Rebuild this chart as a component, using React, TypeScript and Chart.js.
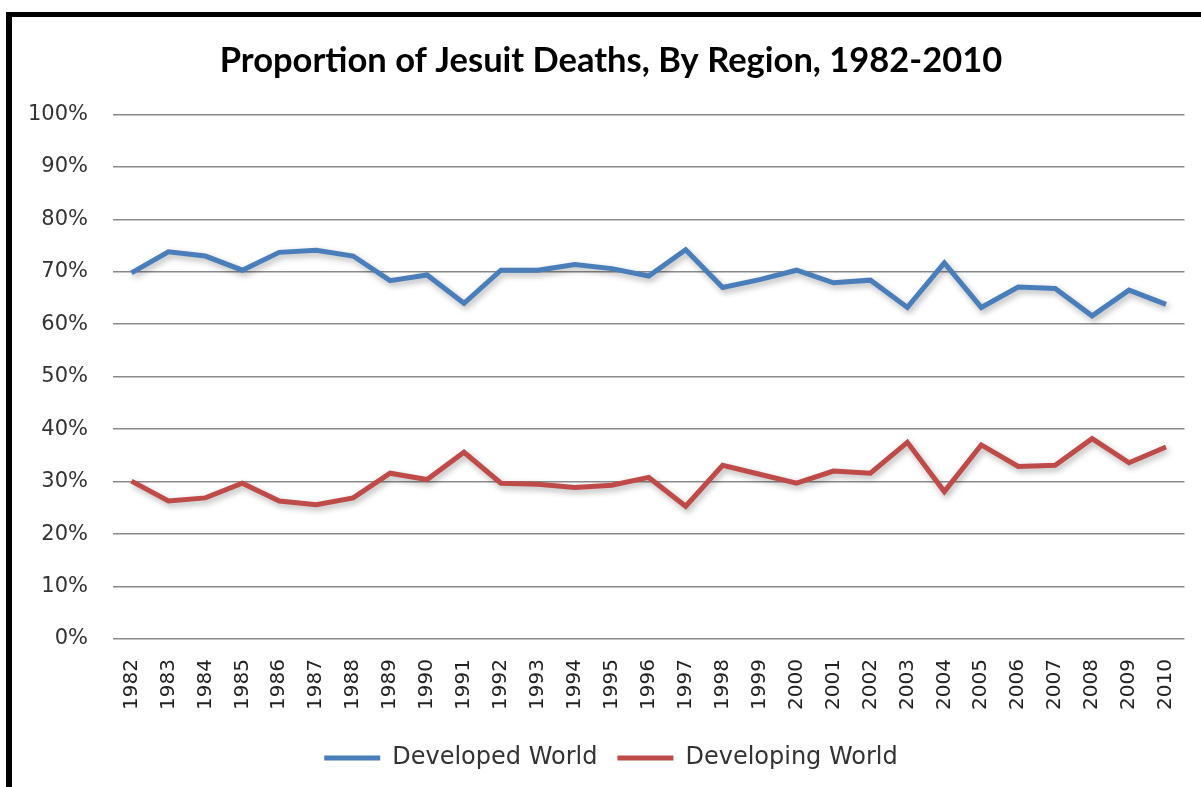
import React, { useEffect, useRef } from "react";
import { Chart, registerables } from "chart.js";

Chart.register(...registerables);

const years: string[] = [
  "1982", "1983", "1984", "1985", "1986", "1987", "1988", "1989", "1990", "1991",
  "1992", "1993", "1994", "1995", "1996", "1997", "1998", "1999", "2000", "2001",
  "2002", "2003", "2004", "2005", "2006", "2007", "2008", "2009", "2010",
];

const developedWorld: number[] = [
  69.8, 73.8, 73.0, 70.3, 73.7, 74.1, 73.0, 68.3, 69.4, 64.0,
  70.3, 70.3, 71.4, 70.6, 69.2, 74.2, 67.0, 68.5, 70.3, 67.9,
  68.4, 63.2, 71.7, 63.2, 67.1, 66.8, 61.6, 66.5, 63.8,
];

const developingWorld: number[] = [
  30.1, 26.3, 26.9, 29.7, 26.3, 25.6, 26.9, 31.6, 30.4, 35.6,
  29.7, 29.5, 28.9, 29.3, 30.8, 25.3, 33.1, 31.4, 29.7, 32.0,
  31.6, 37.5, 28.1, 37.0, 32.9, 33.1, 38.2, 33.6, 36.6,
];

const seriesNames: string[] = ["Developed World", "Developing World"];
const titleText = "Proportion of Jesuit Deaths, By Region, 1982-2010";

const shadowPlugin = {
  id: "lineShadow",
  beforeDatasetDraw(chart: any) {
    const ctx = chart.ctx;
    ctx.save();
    ctx.shadowColor = "rgba(0,0,0,0.30)";
    ctx.shadowBlur = 6;
    ctx.shadowOffsetX = 2;
    ctx.shadowOffsetY = 3;
  },
  afterDatasetDraw(chart: any) {
    chart.ctx.restore();
  },
};

export default function App() {
  const canvasRef = useRef<HTMLCanvasElement | null>(null);

  useEffect(() => {
    if (!canvasRef.current) return;
    const chart = new Chart(canvasRef.current, {
      type: "line",
      data: {
        labels: years,
        datasets: [
          {
            label: seriesNames[0],
            data: developedWorld,
            borderColor: "#4A7EBB",
            backgroundColor: "#4A7EBB",
            borderWidth: 5,
            pointRadius: 0,
            tension: 0,
          },
          {
            label: seriesNames[1],
            data: developingWorld,
            borderColor: "#BE4B48",
            backgroundColor: "#BE4B48",
            borderWidth: 5,
            pointRadius: 0,
            tension: 0,
          },
        ],
      },
      plugins: [shadowPlugin],
      options: {
        animation: false,
        responsive: false,
        maintainAspectRatio: false,
        layout: { padding: { left: 0, right: 0, top: 0, bottom: 7 } },
        plugins: {
          title: {
            display: true,
            text: titleText,
            color: "#000000",
            font: { family: "Lato", size: 34.5, weight: "bold" },
            padding: { top: 23, bottom: 33 },
          },
          legend: {
            display: true,
            position: "bottom",
            labels: {
              usePointStyle: true,
              pointStyle: "line",
              pointStyleWidth: 56,
              color: "#333333",
              font: { family: "DejaVu Sans", size: 24 },
              padding: 20,
            },
          },
          tooltip: { enabled: false },
        },
        scales: {
          x: {
            offset: true,
            afterFit(scale: any) {
              scale.height = 87;
            },
            grid: { display: false, drawTicks: false },
            border: { display: false },
            ticks: {
              color: "#222222",
              font: { family: "DejaVu Sans", size: 20 },
              maxRotation: 90,
              minRotation: 90,
              autoSkip: false,
              padding: 20,
            },
          },
          y: {
            min: 0,
            max: 100,
            afterFit(scale: any) {
              scale.width = 101;
            },
            grid: { color: "#8a8a8a", lineWidth: 1.5, drawTicks: false },
            border: { display: false },
            ticks: {
              stepSize: 10,
              color: "#333333",
              font: { family: "DejaVu Sans", size: 21 },
              padding: 25,
              callback: (v: any) => v + "%",
            },
          },
        },
      },
    });
    return () => chart.destroy();
  }, []);

  return (
    <div style={{ position: "fixed", left: 0, top: 0, width: 1201, height: 787, background: "#ffffff", overflow: "hidden" }}>
      <div
        style={{
          position: "absolute",
          left: 6,
          top: 12,
          width: 1195,
          height: 790,
          borderTop: "5px solid #000",
          borderLeft: "6px solid #000",
          boxSizing: "border-box",
        }}
      />
      <canvas ref={canvasRef} width={1198} height={770} style={{ position: "absolute", left: 12, top: 17, width: 1198, height: 770 }} />
    </div>
  );
}
